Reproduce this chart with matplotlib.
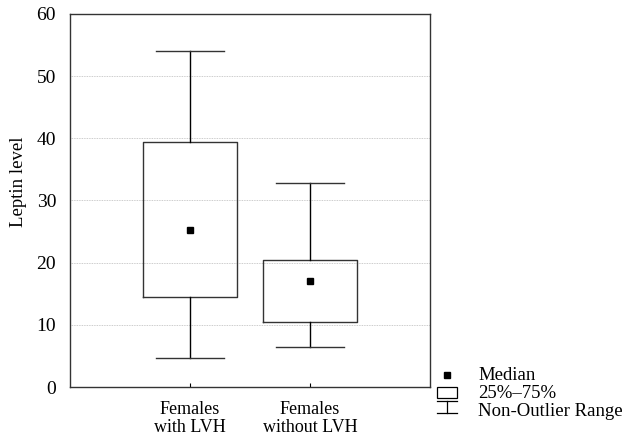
import matplotlib
matplotlib.use("Agg")
from matplotlib import pyplot as plt
from matplotlib.patches import Rectangle
from matplotlib.lines import Line2D

plt.rcParams['font.family'] = ['Liberation Serif', 'DejaVu Serif']

# box statistics
groups = ["Females\nwith LVH", "Females\nwithout LVH"]
whisker_low = [4.7, 6.4]
q1 = [14.5, 10.4]
medians = [25.2, 17.0]
q3 = [39.4, 20.5]
whisker_high = [54.0, 32.8]

stats = []
for i in range(len(groups)):
    stats.append({"whislo": whisker_low[i], "q1": q1[i], "med": medians[i],
                  "q3": q3[i], "whishi": whisker_high[i], "fliers": []})

fig = plt.figure(figsize=(6.25, 4.37), dpi=100)
ax = fig.add_axes([0.112, 0.1144, 0.576, 0.8536])

ax.bxp(stats, positions=[1, 2], widths=0.79, showfliers=False,
       boxprops=dict(color="#333333", linewidth=1.0),
       whiskerprops=dict(color="black", linewidth=1.0),
       capprops=dict(color="#333333", linewidth=1.0),
       medianprops=dict(linewidth=0), capwidths=0.56)
ax.plot([1, 2], medians, linestyle="none", marker="s", markersize=4.5, color="black")

ax.set_xlim(0, 3)
ax.set_ylim(0, 60)
ax.set_yticks(range(0, 61, 10))
ax.set_xticks([1, 2])
ax.set_xticklabels(groups, linespacing=1.1)
ax.yaxis.grid(True, linestyle=(0, (1, 1)), color="#bbbbbb", linewidth=0.6)
ax.set_axisbelow(True)
ax.tick_params(axis="y", length=0, labelsize=14, pad=10)
ax.tick_params(axis="x", direction="in", length=3, labelsize=13, pad=10)
for s in ax.spines.values():
    s.set_color("#333333")
    s.set_linewidth(1.0)
ax.set_ylabel("Leptin level", fontsize=13.5, va="center")
ax.yaxis.set_label_coords(-0.142, 0.55)

# legend drawn at lower right, outside the axes
def fy(p):
    return 1 - p / 437

lx0, lx1, lxc = 437 / 625, 457 / 625, 447 / 625
fig.add_artist(Line2D([lxc], [fy(375)], marker="s", markersize=4.5,
                      color="black", linestyle="none"))
fig.add_artist(Rectangle((lx0, fy(398)), 20 / 625, 11 / 437,
                         fill=False, edgecolor="black", linewidth=0.9))
fig.add_artist(Line2D([lxc, lxc], [fy(401), fy(413)], color="black", linewidth=0.9))
fig.add_artist(Line2D([lx0, lx1], [fy(401), fy(401)], color="black", linewidth=0.9))
fig.add_artist(Line2D([lx0, lx1], [fy(413), fy(413)], color="black", linewidth=0.9))
for txt, ypix in [("Median", 375), ("25%–75%", 393), ("Non-Outlier Range", 412)]:
    fig.text(478 / 625, fy(ypix), txt, fontsize=13.5, va="center", ha="left")

fig.savefig("out.png", dpi=100)
